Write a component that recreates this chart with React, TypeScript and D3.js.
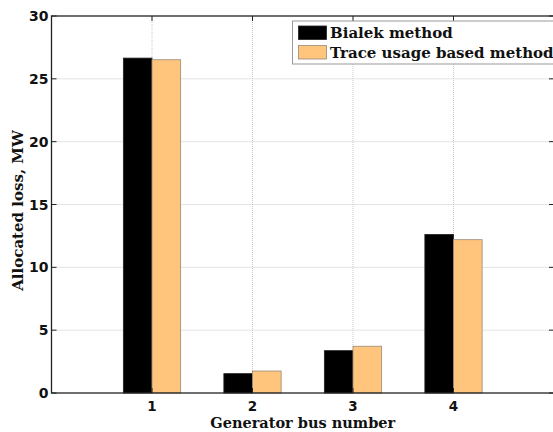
import { useEffect, useRef } from 'react';
import * as d3 from 'd3';

const WIDTH = 553;
const HEIGHT = 432;
const MARGIN = { top: 16, right: -1, bottom: 39, left: 51.5 };

const buses = [1, 2, 3, 4];
const bialek = [26.65, 1.54, 3.37, 12.62];
const traceUsage = [26.52, 1.75, 3.72, 12.2];
const yTicks = [0, 5, 10, 15, 20, 25, 30];
const seriesNames = ['Bialek method', 'Trace usage based method'];
const seriesColors = ['#000000', '#ffc57c'];
const seriesStroke = ['#222222', '#9a8a78'];

const SERIF = '"DejaVu Serif", serif';
const SANS = '"DejaVu Sans", "Liberation Sans", sans-serif';

export default function App() {
  const svgRef = useRef<SVGSVGElement>(null);

  useEffect(() => {
    if (!svgRef.current) return;
    const svg = d3.select(svgRef.current);
    svg.selectAll('*').remove();

    const boundsWidth = WIDTH - MARGIN.left - MARGIN.right;
    const boundsHeight = HEIGHT - MARGIN.top - MARGIN.bottom;

    const xScale = d3.scaleLinear().domain([0, 5]).range([0, boundsWidth]);
    const yScale = d3.scaleLinear().domain([0, 30]).range([boundsHeight, 0]);
    const step = xScale(1) - xScale(0);
    const barW = step * 0.285;

    const g = svg.append('g').attr('transform', `translate(${MARGIN.left}, ${MARGIN.top})`);

    // grid
    g.selectAll('.hgrid')
      .data(yTicks.filter(t => t > 0 && t < 30))
      .join('line')
      .attr('x1', 0)
      .attr('x2', boundsWidth)
      .attr('y1', d => yScale(d))
      .attr('y2', d => yScale(d))
      .attr('stroke', '#c8c8c8')
      .attr('stroke-width', 1)
      .attr('stroke-dasharray', '1,1');
    g.selectAll('.vgrid')
      .data(buses)
      .join('line')
      .attr('x1', d => xScale(d))
      .attr('x2', d => xScale(d))
      .attr('y1', 0)
      .attr('y2', boundsHeight)
      .attr('stroke', '#c8c8c8')
      .attr('stroke-width', 1)
      .attr('stroke-dasharray', '1,1');

    // bars
    const series = [bialek, traceUsage];
    series.forEach((vals, si) => {
      g.append('g')
        .selectAll('rect')
        .data(vals)
        .join('rect')
        .attr('x', (d, i) => xScale(buses[i]) + (si - 1) * barW)
        .attr('y', d => yScale(d))
        .attr('width', barW)
        .attr('height', d => boundsHeight - yScale(d))
        .attr('fill', seriesColors[si])
        .attr('stroke', seriesStroke[si])
        .attr('stroke-width', 0.8);
    });

    // frame
    g.append('rect')
      .attr('x', 0)
      .attr('y', 0)
      .attr('width', boundsWidth)
      .attr('height', boundsHeight)
      .attr('fill', 'none')
      .attr('stroke', '#222')
      .attr('stroke-width', 1.3);

    // ticks (inward)
    const tickLen = 5;
    yTicks.forEach(t => {
      const y = yScale(t);
      g.append('line').attr('x1', 0).attr('x2', tickLen).attr('y1', y).attr('y2', y).attr('stroke', '#222');
      g.append('line').attr('x1', boundsWidth).attr('x2', boundsWidth - tickLen).attr('y1', y).attr('y2', y).attr('stroke', '#222');
    });
    buses.forEach(b => {
      const x = xScale(b);
      g.append('line').attr('x1', x).attr('x2', x).attr('y1', boundsHeight).attr('y2', boundsHeight - tickLen).attr('stroke', '#222');
      g.append('line').attr('x1', x).attr('x2', x).attr('y1', 0).attr('y2', tickLen).attr('stroke', '#222');
    });

    // tick labels
    g.selectAll('.ylab')
      .data(yTicks)
      .join('text')
      .attr('x', -3)
      .attr('y', d => yScale(d) + 5)
      .attr('text-anchor', 'end')
      .style('font-family', SANS)
      .style('font-size', '14px')
      .style('font-weight', 'bold')
      .style('fill', '#111')
      .text(d => d);
    g.selectAll('.xlab')
      .data(buses)
      .join('text')
      .attr('x', d => xScale(d))
      .attr('y', boundsHeight + 17.5)
      .attr('text-anchor', 'middle')
      .style('font-family', SANS)
      .style('font-size', '13.5px')
      .style('font-weight', 'bold')
      .style('fill', '#111')
      .text(d => d);

    // axis titles
    g.append('text')
      .attr('x', xScale(2.5))
      .attr('y', boundsHeight + 35)
      .attr('text-anchor', 'middle')
      .style('font-family', SERIF)
      .style('font-size', '14.5px')
      .style('font-weight', 'bold')
      .style('fill', '#111')
      .text('Generator bus number');
    g.append('text')
      .attr('transform', `translate(${22.5 - MARGIN.left}, ${boundsHeight / 2 + 6}) rotate(-90)`)
      .attr('text-anchor', 'middle')
      .style('font-family', SERIF)
      .style('font-size', '15px')
      .style('font-weight', 'bold')
      .style('fill', '#111')
      .text('Allocated loss, MW');

    // legend
    const lx = 292.5 - MARGIN.left;
    const ly = 21 - MARGIN.top;
    const legend = g.append('g').attr('transform', `translate(${lx}, ${ly})`);
    legend.append('rect')
      .attr('x', 0)
      .attr('y', 0)
      .attr('width', 270)
      .attr('height', 43)
      .attr('fill', '#fff')
      .attr('stroke', '#999')
      .attr('stroke-width', 1);
    seriesNames.forEach((name, i) => {
      legend.append('rect')
        .attr('x', 6)
        .attr('y', 5 + i * 19.5)
        .attr('width', 28)
        .attr('height', 13.5)
        .attr('fill', seriesColors[i])
        .attr('stroke', seriesStroke[i])
        .attr('stroke-width', 0.8);
      legend.append('text')
        .attr('x', 37.5)
        .attr('y', 17 + i * 19.5)
        .style('font-family', SERIF)
        .style('font-size', '15px')
        .style('font-weight', 'bold')
        .style('fill', '#111')
        .text(name);
    });
  }, []);

  return (
    <svg
      ref={svgRef}
      width={WIDTH}
      height={HEIGHT}
      style={{ position: 'absolute', left: 0, top: 0, background: '#fff' }}
    />
  );
}
